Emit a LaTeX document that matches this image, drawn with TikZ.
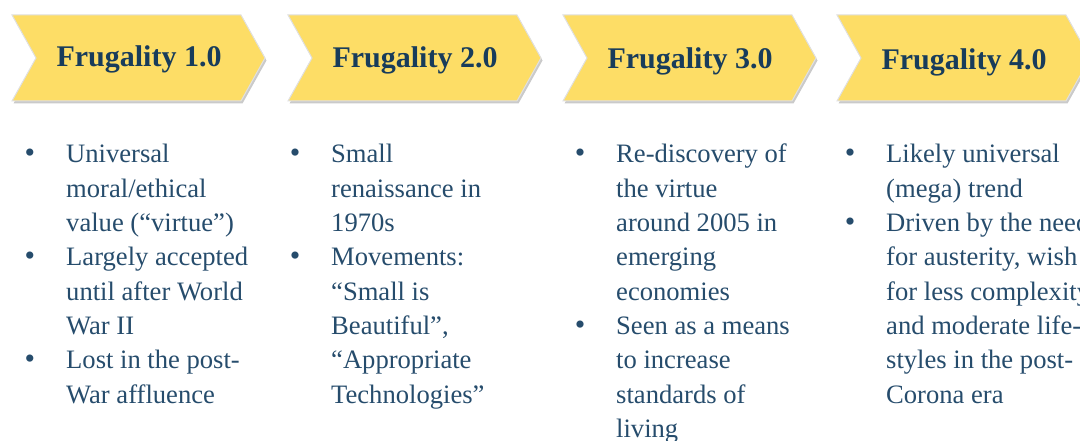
\documentclass[tikz,border=0pt]{standalone}
\usepackage{fontspec}
\setmainfont{Liberation Serif}
\definecolor{chevfill}{HTML}{FDDD66}
\definecolor{titlecol}{HTML}{183C5B}
\definecolor{bodycol}{HTML}{264C6C}
\newcommand{\chevshape}[1]{(#1,426) -- ++(229,0) -- ++(24,-43) -- ++(-24,-43) -- ++(-229,0) -- ++(24,43) -- cycle}
\begin{document}
\begin{tikzpicture}[x=1pt,y=1pt,
  chevtitle/.style={font=\fontsize{30}{34}\selectfont\bfseries, text=titlecol, anchor=base, inner sep=0pt},
  itemtext/.style={anchor=base west, inner sep=0pt, text=bodycol},
  bulletmark/.style={anchor=base, inner sep=0pt, text=bodycol, font=\fontsize{30}{30}\selectfont}]
\useasboundingbox (0,0) rectangle (1080,441);
\clip (0,0) rectangle (1080,441);
% chevrons
\foreach \L in {12,288,563,837}{
  \fill[black!35, opacity=0.6] [shift={(1.5,-2.5)}] \chevshape{\L};
  \fill[chevfill] \chevshape{\L};
  \draw[white!88!black, line width=1pt] \chevshape{\L};
}
\node[chevtitle] (t1) at (139,374) {Frugality 1.0};
\node[chevtitle] (t2) at (415,373) {Frugality 2.0};
\node[chevtitle] (t3) at (690,372) {Frugality 3.0};
\node[chevtitle] (t4) at (964,371) {Frugality 4.0};
% body text
\newcommand{\itembox}[1]{\parbox[t]{300pt}{\fontsize{26.6}{34.3}\selectfont\raggedright #1}}
% column 1
\node[bulletmark] (b11) at (30,278) {\textbullet};
\node[itemtext] (i11) at (66,278) {\itembox{Universal\\moral/ethical\\value (“virtue”)}};
\node[bulletmark] (b12) at (30,175.1) {\textbullet};
\node[itemtext] (i12) at (66,175.1) {\itembox{Largely accepted\\until after World\\War II}};
\node[bulletmark] (b13) at (30,72.2) {\textbullet};
\node[itemtext] (i13) at (66,72.2) {\itembox{Lost in the post-\\War affluence}};
% column 2
\node[bulletmark] (b21) at (295,278) {\textbullet};
\node[itemtext] (i21) at (331,278) {\itembox{Small\\renaissance in\\1970s}};
\node[bulletmark] (b22) at (295,175.1) {\textbullet};
\node[itemtext] (i22) at (331,175.1) {\itembox{Movements:\\“Small is\\Beautiful”,\\“Appropriate\\Technologies”}};
% column 3
\node[bulletmark] (b31) at (580,278) {\textbullet};
\node[itemtext] (i31) at (616,278) {\itembox{Re-discovery of\\the virtue\\around 2005 in\\emerging\\economies}};
\node[bulletmark] (b32) at (580,106.5) {\textbullet};
\node[itemtext] (i32) at (616,106.5) {\itembox{Seen as a means\\to increase\\standards of\\living}};
% column 4
\node[bulletmark] (b41) at (850,278) {\textbullet};
\node[itemtext] (i41) at (886,278) {\itembox{Likely universal\\(mega) trend}};
\node[bulletmark] (b42) at (850,209.4) {\textbullet};
\node[itemtext] (i42) at (886,209.4) {\itembox{Driven by the need\\for austerity, wish\\for less complexity\\and moderate life-\\styles in the post-\\Corona era}};
\end{tikzpicture}
\end{document}
